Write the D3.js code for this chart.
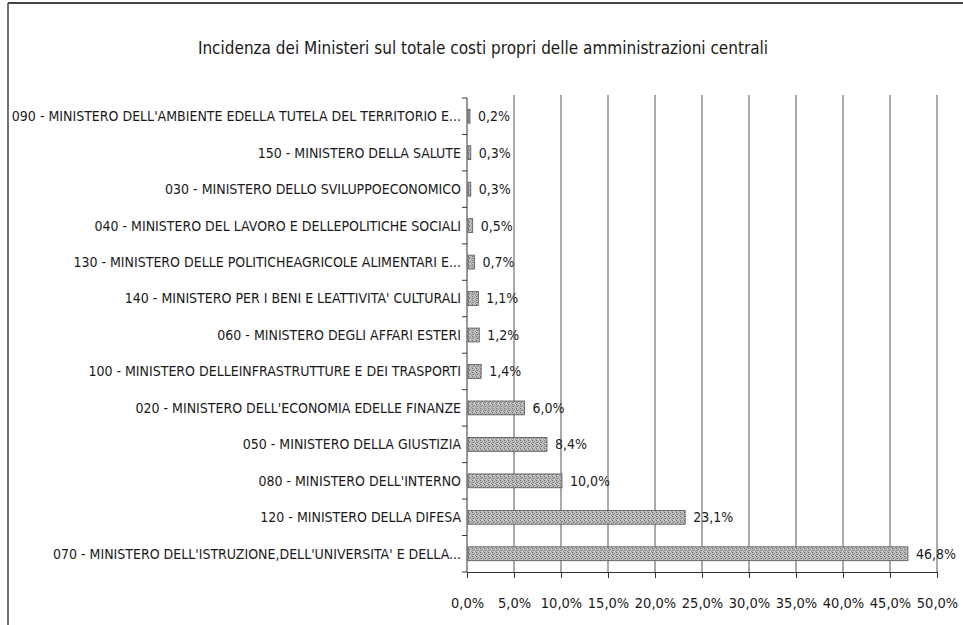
<!DOCTYPE html>
<html>
<head>
<meta charset="utf-8">
<script src="https://cdn.jsdelivr.net/npm/d3@7"></script>
<style>
  body { margin: 0; background: #fff; }
  text { font-family: "DejaVu Sans Condensed", "DejaVu Sans", sans-serif; font-stretch: condensed; fill: #1a1a1a; }
</style>
</head>
<body>
<script>
const w = 963;
const h = 625;

// data, top to bottom
const categories = [
  "090 - MINISTERO DELL'AMBIENTE EDELLA TUTELA DEL TERRITORIO E...",
  "150 - MINISTERO DELLA SALUTE",
  "030 - MINISTERO DELLO SVILUPPOECONOMICO",
  "040 - MINISTERO DEL LAVORO E DELLEPOLITICHE SOCIALI",
  "130 - MINISTERO DELLE POLITICHEAGRICOLE ALIMENTARI E...",
  "140 - MINISTERO PER I BENI E LEATTIVITA' CULTURALI",
  "060 - MINISTERO DEGLI AFFARI ESTERI",
  "100 - MINISTERO DELLEINFRASTRUTTURE E DEI TRASPORTI",
  "020 - MINISTERO DELL'ECONOMIA EDELLE FINANZE",
  "050 - MINISTERO DELLA GIUSTIZIA",
  "080 - MINISTERO DELL'INTERNO",
  "120 - MINISTERO DELLA DIFESA",
  "070 - MINISTERO DELL'ISTRUZIONE,DELL'UNIVERSITA' E DELLA..."
];
const values = [0.2, 0.3, 0.3, 0.5, 0.7, 1.1, 1.2, 1.4, 6.0, 8.4, 10.0, 23.1, 46.8];
const ticks = [0, 5, 10, 15, 20, 25, 30, 35, 40, 45, 50];
const title = "Incidenza dei Ministeri sul totale costi propri delle amministrazioni centrali";

const fmt = v => d3.format(".1f")(v).replace(".", ",") + "%";

const svg = d3.select("body")
  .append("svg")
  .attr("width", w)
  .attr("height", h);

// dotted grey fill like the printed bars
const pat = svg.append("defs").append("pattern")
  .attr("id", "dots")
  .attr("width", 4)
  .attr("height", 4)
  .attr("patternUnits", "userSpaceOnUse");
pat.append("rect").attr("width", 4).attr("height", 4).attr("fill", "#bdbdbd");
[[0, 0, "#6a6a6a"], [2, 1, "#888"], [1, 2, "#777"], [3, 3, "#8a8a8a"], [2, 3, "#d8d8d8"], [0, 2, "#999"]]
  .forEach(p => pat.append("rect").attr("x", p[0]).attr("y", p[1])
    .attr("width", 1).attr("height", 1).attr("fill", p[2]));

// frame of the chart area (only top and left show in the scan)
svg.append("line").attr("x1", 8).attr("x2", w).attr("y1", 3).attr("y2", 3)
  .attr("stroke", "#444").attr("stroke-width", 2);
svg.append("line").attr("x1", 8).attr("x2", 8).attr("y1", 3).attr("y2", h)
  .attr("stroke", "#444").attr("stroke-width", 1.5);

svg.append("text")
  .attr("x", 483)
  .attr("y", 54)
  .attr("text-anchor", "middle")
  .style("font-size", "17px")
  .text(title);

const x = d3.scaleLinear().domain([0, 50]).range([467, 937]);
const y = d3.scaleBand()
  .domain(categories)
  .range([98, 572])
  .paddingInner(0.62)
  .paddingOuter(0.31);

// vertical gridlines
svg.append("g")
  .selectAll("line")
  .data(ticks.slice(1))
  .enter()
  .append("line")
  .attr("x1", d => x(d))
  .attr("x2", d => x(d))
  .attr("y1", 95)
  .attr("y2", 572)
  .attr("stroke", "#555")
  .attr("stroke-width", 1);

// x axis
const xAxis = d3.axisBottom(x)
  .tickValues(ticks)
  .tickSize(6)
  .tickPadding(20)
  .tickFormat(fmt);
const gx = svg.append("g")
  .attr("transform", "translate(0,572)")
  .call(xAxis);
gx.select(".domain").attr("stroke", "#333");
gx.selectAll(".tick line").attr("stroke", "#333");
gx.selectAll(".tick text")
  .style("font-size", "14.5px")
  .attr("fill", "#1a1a1a");

// y axis line with ticks on the category boundaries
svg.append("line")
  .attr("x1", x(0)).attr("x2", x(0))
  .attr("y1", y.range()[0]).attr("y2", y.range()[1])
  .attr("stroke", "#333");
svg.append("g")
  .selectAll("line")
  .data(d3.range(categories.length + 1))
  .enter()
  .append("line")
  .attr("x1", x(0) - 5)
  .attr("x2", x(0))
  .attr("y1", i => y.range()[0] + i * y.step())
  .attr("y2", i => y.range()[0] + i * y.step())
  .attr("stroke", "#333");

// category labels
svg.append("g")
  .selectAll("text")
  .data(categories)
  .enter()
  .append("text")
  .attr("x", x(0) - 6)
  .attr("y", d => y(d) + y.bandwidth() / 2)
  .attr("dy", "0.35em")
  .attr("text-anchor", "end")
  .style("font-size", "14px")
  .text(d => d);

// bars
svg.append("g")
  .selectAll("rect")
  .data(values)
  .enter()
  .append("rect")
  .attr("x", x(0) + 1)
  .attr("y", (d, i) => y(categories[i]))
  .attr("width", d => Math.max(x(d) - x(0), 2))
  .attr("height", y.bandwidth())
  .attr("fill", "url(#dots)")
  .attr("stroke", "#555")
  .attr("stroke-width", 0.8);

// value labels
svg.append("g")
  .selectAll("text")
  .data(values)
  .enter()
  .append("text")
  .attr("x", d => x(d) + 9)
  .attr("y", (d, i) => y(categories[i]) + y.bandwidth() / 2)
  .attr("dy", "0.35em")
  .style("font-size", "14px")
  .text(d => fmt(d));
</script>
</body>
</html>
